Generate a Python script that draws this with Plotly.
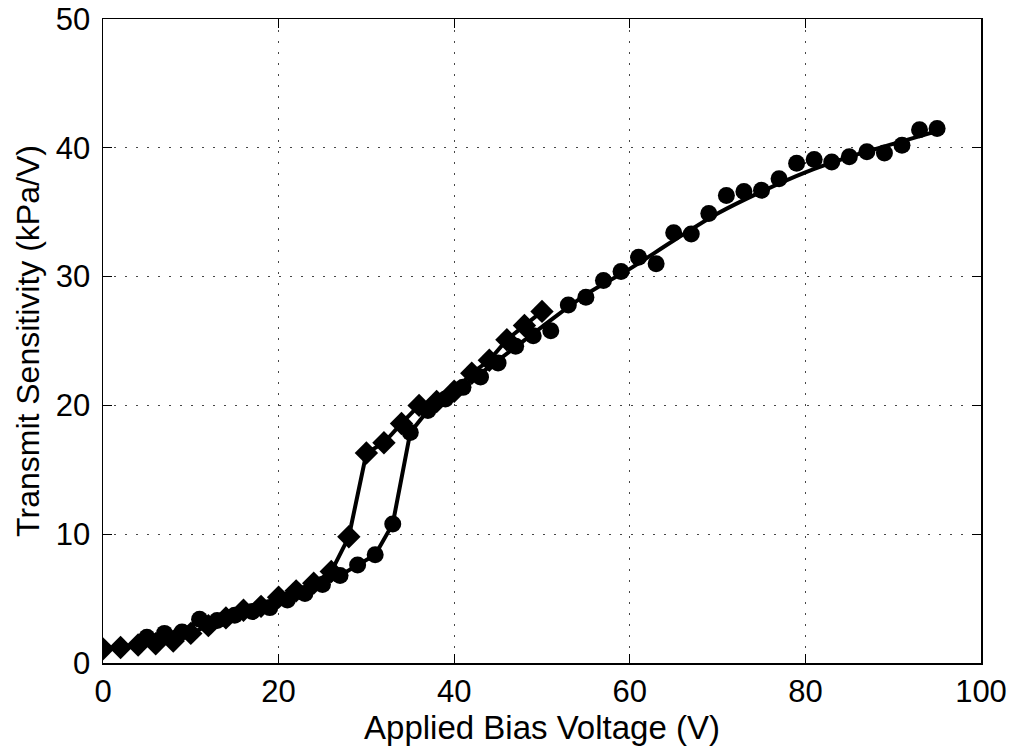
import plotly.graph_objects as go

# Diamond series (even bias voltages 0..50)
diamond_x = [0, 2, 4, 6, 8, 10, 12, 14, 16, 18, 20, 22, 24, 26, 28, 30, 32, 34, 36, 38, 40, 42, 44, 46, 48, 50]
diamond_y = [1.1, 1.2, 1.4, 1.5, 1.7, 2.3, 2.9, 3.5, 4.1, 4.4, 5.1, 5.6, 6.2, 7.1, 9.8, 16.3, 17.1, 18.6,
             20.0, 20.3, 21.1, 22.5, 23.5, 25.1, 26.2, 27.3]

# Circle series (odd bias voltages 5..95)
circle_x = [5, 7, 9, 11, 13, 15, 17, 19, 21, 23, 25, 27, 29, 31, 33, 35, 37, 39, 41, 43, 45, 47, 49,
            51, 53, 55, 57, 59, 61, 63, 65, 67, 69, 71, 73, 75, 77, 79, 81, 83, 85, 87, 89, 91, 93, 95]
circle_y = [2.0, 2.3, 2.4, 3.4, 3.3, 3.7, 4.0, 4.3, 4.9, 5.4, 6.1, 6.8, 7.6, 8.4, 10.8, 17.9, 19.6, 20.5,
            21.4, 22.2, 23.3, 24.6, 25.4, 25.8, 27.8, 28.4, 29.7, 30.4, 31.5, 31.0, 33.4, 33.3, 34.9,
            36.3, 36.6, 36.7, 37.6, 38.8, 39.1, 38.9, 39.3, 39.7, 39.6, 40.2, 41.4, 41.5]

# Circle points joined by straight segments up to this voltage
circle_join_max = 37

# Smooth fitted curve through the circle data
fit_x = [37, 40, 45, 50, 55, 60, 65, 70, 75, 80, 85, 90, 95]
fit_y = [19.6, 21.0, 23.5, 26.1, 28.6, 30.6, 32.8, 34.9, 36.6, 38.1, 39.3, 40.3, 41.3]

x_ticks = [0, 20, 40, 60, 80, 100]
y_ticks = [0, 10, 20, 30, 40, 50]

FONT = "Liberation Sans, Arial, Helvetica, sans-serif"

jx = [x for x in circle_x if x <= circle_join_max]
jy = [y for x, y in zip(circle_x, circle_y) if x <= circle_join_max]

fig = go.Figure()
fig.add_trace(go.Scatter(x=fit_x, y=fit_y, mode="lines", line=dict(color="black", width=4, shape="spline"),
                         showlegend=False, hoverinfo="skip"))
fig.add_trace(go.Scatter(x=jx, y=jy, mode="lines", line=dict(color="black", width=4),
                         showlegend=False, hoverinfo="skip"))
fig.add_trace(go.Scatter(x=circle_x, y=circle_y, mode="markers",
                         marker=dict(symbol="circle", size=17, color="black"), showlegend=False))
fig.add_trace(go.Scatter(x=diamond_x, y=diamond_y, mode="lines+markers",
                         line=dict(color="black", width=4),
                         marker=dict(symbol="diamond", size=18, color="black"), showlegend=False))

axis_common = dict(
    showline=True, linecolor="black", linewidth=1.5, mirror="ticks",
    ticks="inside", ticklen=9, tickwidth=1.2, tickcolor="black",
    showgrid=True, gridcolor="rgb(70,70,70)", gridwidth=1, griddash="1.5px,9.5px",
    zeroline=False, tickfont=dict(family=FONT, size=31, color="black"),
    ticklabeloverflow="allow",
)

fig.update_xaxes(range=[0, 100], tickvals=x_ticks, ticktext=[str(v) for v in x_ticks],
                 title=dict(text="Applied Bias Voltage (V)", font=dict(family=FONT, size=33, color="black"), standoff=2),
                 **axis_common)
fig.update_yaxes(range=[0, 50], tickvals=y_ticks, ticktext=[str(v) for v in y_ticks],
                 ticklabelstandoff=5,
                 title=dict(text="Transmit Sensitivity (kPa/V)", font=dict(family=FONT, size=32, color="black"), standoff=6),
                 **axis_common)

fig.update_layout(
    width=1013, height=747,
    margin=dict(l=102.5, r=31.5, t=19, b=84, autoexpand=False),
    paper_bgcolor="white", plot_bgcolor="white",
    font=dict(family=FONT, color="black"),
)

# remove the default page margin so the figure fills the window exactly
fig.write_html("out.html", config={"displayModeBar": False, "staticPlot": True},
               post_script="document.body.style.margin='0';document.body.style.overflow='hidden';")
